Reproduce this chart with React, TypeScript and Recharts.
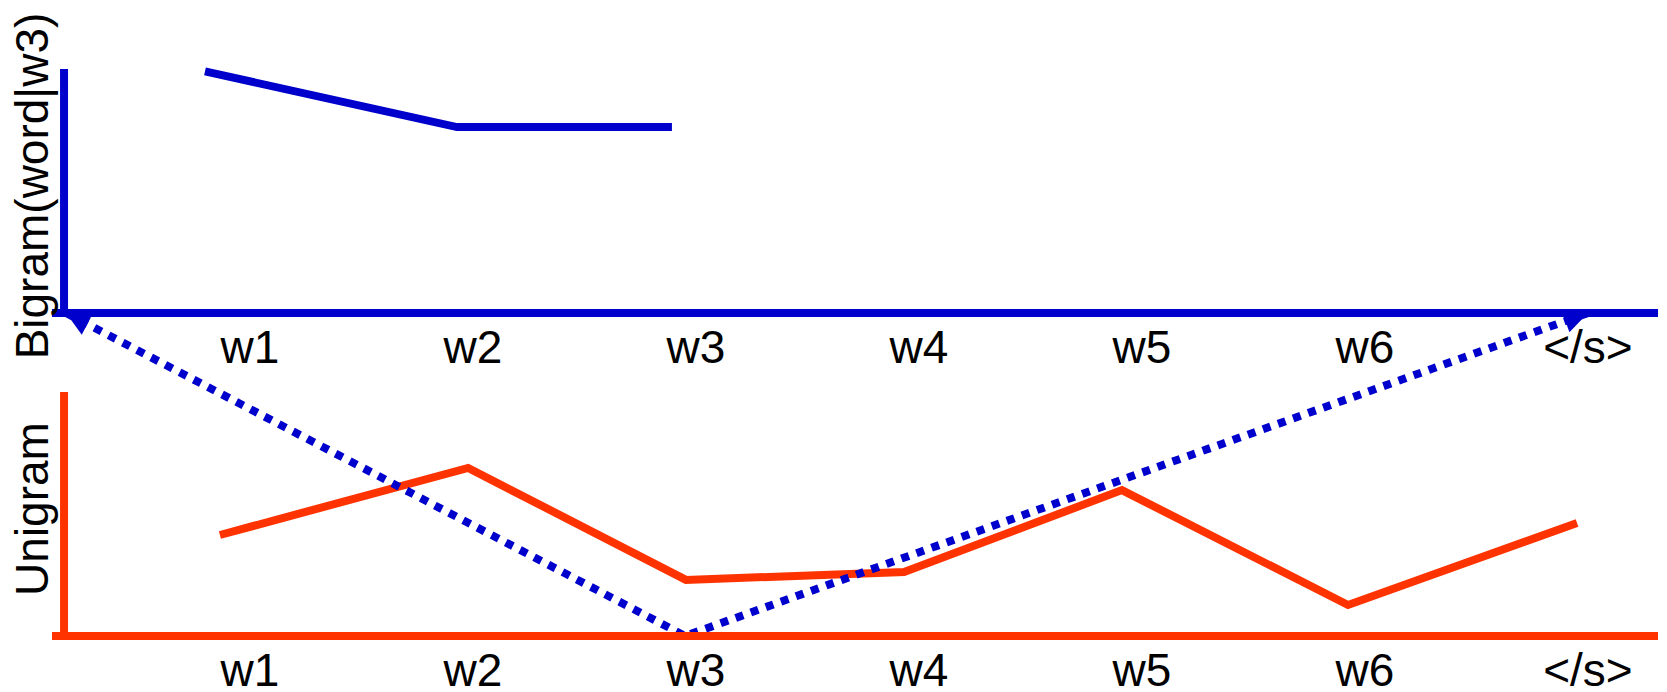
import { ComposedChart, Line, XAxis, YAxis, ReferenceLine, Scatter } from 'recharts';

const words = ['w1', 'w2', 'w3', 'w4', 'w5', 'w6', '</s>'];
const wordTicks = [0, 1, 2, 3, 4, 5, 6];

// lower panel: unigram, 1 = height of the red axis
const unigramX = [-0.135, 0.978, 1.955, 2.933, 3.91, 4.924, 5.951];
const unigramP = [0.414, 0.689, 0.23, 0.262, 0.598, 0.127, 0.463];

// upper panel: bigram given w3, only drawn up to w3
const bigramX = [-0.202, 0.928, 1.892];
const bigramP = [0.99, 0.762, 0.762];

// dotted arrow, in unigram units (1.324 = upper panel baseline)
const arrowX = [-0.825, 1.951, 6.0];
const arrowY = [1.324, 0, 1.324];

const BLUE = '#0000cc';
const RED = '#ff3300';
const FONT = '"Liberation Sans", Arial, sans-serif';
const axisX = -0.834;

const uniData = unigramX.map((x, i) => ({ x, y: unigramP[i] }));
const biData = bigramX.map((x, i) => ({ x, y: bigramP[i] }));
const arrowData = arrowX.map((x, i) => ({ x, y: arrowY[i] }));
const topLabels = words.map((w, i) => ({ x: i, y: 0, w }));

const sideLabel = (text: string) => (props: any) => {
  const vb = props.viewBox || {};
  const cx = vb.x - 16;
  const cy = vb.y + vb.height / 2 - 5;
  return (
    <text x={cx} y={cy} transform={`rotate(-90, ${cx}, ${cy})`} textAnchor="middle"
      fontSize={46} fontFamily={FONT} fill="#000">
      {text}
    </text>
  );
};

const TopTick = (props: any) => (
  <text x={props.cx} y={props.cy + 17} dy="0.71em" textAnchor="middle"
    fontSize={46} fontFamily={FONT} fill="#000">
    {props.payload.w}
  </text>
);

export default function App() {
  return (
    <div>
      <ComposedChart width={1659} height={684} margin={{ top: 61, right: 9, bottom: 0, left: 44 }}>
        <defs>
          <marker id="arrowHead" viewBox="0 0 10 10" refX="10" refY="5" markerWidth="26" markerHeight="24"
            markerUnits="userSpaceOnUse" orient="auto-start-reverse">
            <path d="M0,0 L10,5 L0,10 z" fill={BLUE} />
          </marker>
        </defs>
        <XAxis type="number" dataKey="x" domain={[-0.888, 6.314]} ticks={wordTicks} interval={0}
          tickFormatter={(i: number) => words[i]} tickLine={false} tickSize={0} tickMargin={17} height={56}
          axisLine={{ stroke: RED, strokeWidth: 8 }}
          tick={{ fontSize: 46, fontFamily: FONT, fill: '#000' }} />
        <YAxis yAxisId="uni" dataKey="y" type="number" domain={[0, 2.324]} hide />
        <YAxis yAxisId="bi" dataKey="y" type="number" domain={[-1.324, 1]} hide />

        <ReferenceLine yAxisId="bi" y={0} stroke={BLUE} strokeWidth={8} />
        <ReferenceLine yAxisId="bi" segment={[{ x: axisX, y: 0 }, { x: axisX, y: 1 }]} stroke={BLUE}
          strokeWidth={8} label={{ content: sideLabel('Bigram(word|w3)') }} />
        <ReferenceLine yAxisId="uni" segment={[{ x: axisX, y: 0 }, { x: axisX, y: 1 }]} stroke={RED}
          strokeWidth={8} label={{ content: sideLabel('Unigram') }} />

        <Scatter yAxisId="bi" data={topLabels} dataKey="y" shape={TopTick} isAnimationActive={false} />

        <Line yAxisId="bi" data={biData} dataKey="y" type="linear" stroke={BLUE} strokeWidth={8}
          dot={false} activeDot={false} isAnimationActive={false} />
        <Line yAxisId="uni" data={uniData} dataKey="y" type="linear" stroke={RED} strokeWidth={8}
          dot={false} activeDot={false} isAnimationActive={false} />
        <Line yAxisId="uni" data={arrowData} dataKey="y" type="linear" stroke={BLUE} strokeWidth={8}
          strokeDasharray="8 8" markerStart="url(#arrowHead)" markerEnd="url(#arrowHead)"
          dot={false} activeDot={false} isAnimationActive={false} />
      </ComposedChart>
    </div>
  );
}
